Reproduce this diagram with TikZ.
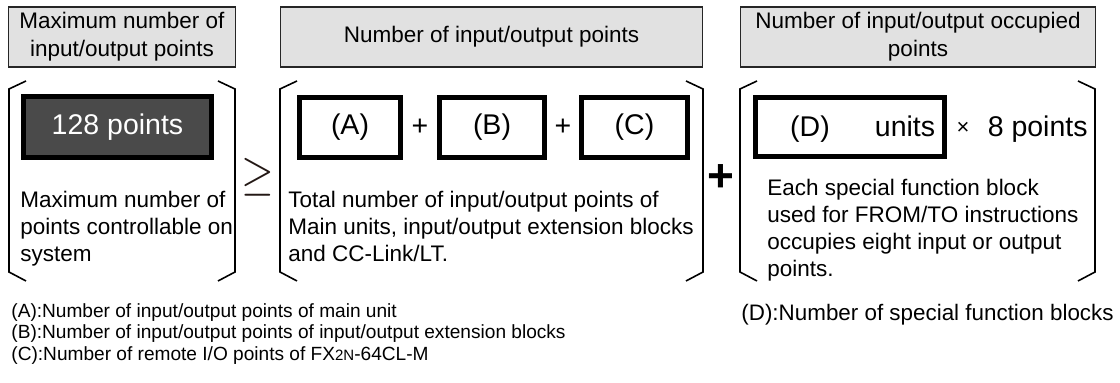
\documentclass[tikz,border=0pt]{standalone}
\usepackage{fontspec}
\setmainfont{Liberation Sans}
\usepackage{tikz}
\usetikzlibrary{calc}

\definecolor{hdrgray}{HTML}{E1E1E1}
\definecolor{boxgray}{HTML}{4A4A4A}
\definecolor{symbrown}{HTML}{231815}

\begin{document}
\begin{tikzpicture}[x=0.5pt, y=-0.5pt,
  header/.style={shape=rectangle, draw=black!85, fill=hdrgray, line width=0.8pt, align=center, minimum height=30.2pt, inner sep=0pt, font=\fontsize{11.25}{14}\selectfont},
  valbox/.style={shape=rectangle, draw, line width=2.5pt, minimum height=30pt, inner sep=0pt, font=\fontsize{14.25}{17}\selectfont},
  bigtext/.style={inner sep=0pt, font=\fontsize{14.25}{17}\selectfont},
  bodytext/.style={anchor=north west, align=left, inner sep=0pt, font=\fontsize{11.25}{13.5}\selectfont},
  legend/.style={anchor=west, inner sep=0pt, font=\fontsize{9.55}{10.75}\selectfont}]

\useasboundingbox (0,0) rectangle (1120,383);

% headers
\node (maxhdr) [header, minimum width=113.5pt] at (122,37) {Maximum number of\\input/output points};
\node (numhdr) [header, minimum width=211pt] at (491.5,37) {Number of input/output points};
\node (occhdr) [header, minimum width=177.5pt] at (918,37) {Number of input/output occupied\\points};

% brackets
\foreach \l/\r in {9/235, 280/703, 740/1095} {
  \draw[line width=0.8pt] ({\l+17},81) -- (\l,89) -- (\l,272) -- ({\l+17},281);
  \draw[line width=0.8pt] ({\r-17},81) -- (\r,89) -- (\r,272) -- ({\r-17},281);
}

% maximum
\node (maxval) [valbox, fill=boxgray, text=white, minimum width=94pt, minimum height=30.5pt] at (117.5,127) {128 points};
\node (maxtxt) [bodytext] at (20,191) {Maximum number of\\points controllable on\\system};

\node (geq) [text=symbrown, inner sep=0pt] at (258,177) {\scalebox{2.1}[2.45]{$\geq$}};

% input/output points
\node (unitA) [valbox, minimum width=50.5pt] at (350,127.5) {(A)};
\node (unitB) [valbox, minimum width=52.5pt] at (492,127.5) {(B)};
\node (unitC) [valbox, minimum width=53pt] at (634.5,127.5) {(C)};
\node (plusab) [bigtext] at ($(unitA.east)!0.5!(unitB.west)$) {+};
\node (plusbc) [bigtext] at ($(unitB.east)!0.5!(unitC.west)$) {+};
\node (numtxt) [bodytext] at (288,191) {Total number of input/output points of\\Main units, input/output extension blocks\\and CC-Link/LT.};

\node (plus) [inner sep=0pt, font=\fontsize{23}{26}\selectfont\bfseries] at (721,178) {+};

% occupied points
\node (unitD) [valbox, minimum width=94.5pt, minimum height=29.5pt] at (850,127) {};
\node (dlabel) [bigtext, anchor=base] at (810,137) {(D)};
\node (dunit) [bigtext, anchor=base] at (905,137) {units};
\node (times) [inner sep=0pt, font=\fontsize{11}{12}\selectfont] at (963,128) {×};
\node (eight) [bigtext, anchor=base east] at (1088,137) {8 points};
\node (occtxt) [bodytext] at (767,179) {Each special function block\\used for FROM/TO instructions\\occupies eight input or output\\points.};

% legend
\node (legA) [legend] at (11,313) {(A):Number of input/output points of main unit};
\node (legB) [legend] at (11,334) {(B):Number of input/output points of input/output extension blocks};
\node (legC) [legend] at (11,356) {(C):Number of remote I/O points of FX{\fontsize{7.5}{8}\selectfont 2N}-64CL-M};
\node (legD) [legend, font=\fontsize{11.2}{13}\selectfont] at (741,315) {(D):Number of special function blocks};

\end{tikzpicture}
\end{document}
